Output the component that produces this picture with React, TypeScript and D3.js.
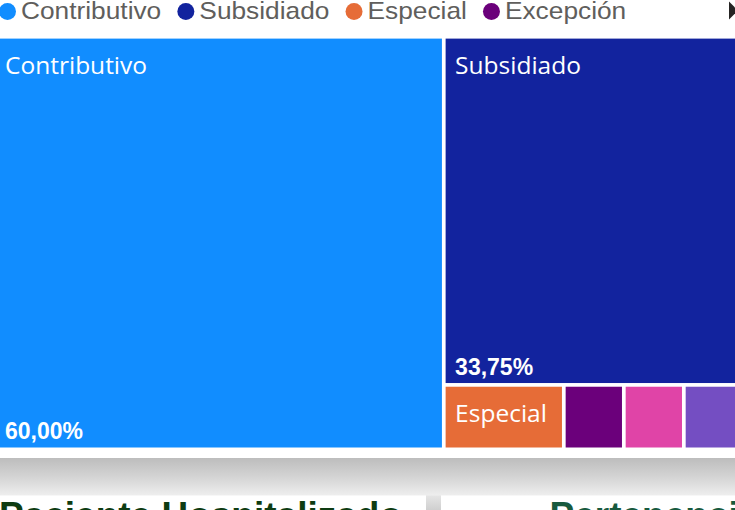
import React, { useEffect, useRef } from "react";
import * as d3 from "d3";

const categories = ["Contributivo", "Subsidiado", "Especial", "Excepción", "No asegurado", "Particular"];
const counts = [48, 27, 2, 1, 1, 1];
const colors = ["#118DFF", "#12239E", "#E66C37", "#6B007B", "#E044A7", "#744EC2"];
const panelTitles = ["Paciente Hospitalizado", "Pertenencia Étnica"];

const W = 735;
const H = 510;

export default function App() {
  const ref = useRef<SVGSVGElement>(null);

  useEffect(() => {
    const svg = d3.select(ref.current);
    svg.selectAll("*").remove();
    const defs = svg.append("defs");

    svg.append("rect").attr("x", 0).attr("y", 0).attr("width", W).attr("height", H).attr("fill", "#ffffff");

    // ---------- Legend ----------
    const legend = svg.append("g");
    const r = 8.5;
    const fs = 24;
    const sx = 1.096;
    let cursor = -1;
    const limit = 722;
    for (let i = 0; i < categories.length; i++) {
      const g = legend.append("g");
      const t = g
        .append("text")
        .attr("font-family", "'Liberation Sans', Arial, sans-serif")
        .attr("font-size", fs)
        .attr("fill", "#605E5C")
        .text(categories[i]);
      const tx = cursor + 2 * r + 5;
      const len = (t.node() as SVGTextElement).getComputedTextLength() * sx;
      if (tx + len > limit) {
        g.remove();
        break;
      }
      t.attr("transform", `translate(${tx},19) scale(${sx},1)`);
      g.append("circle").attr("cx", cursor + r).attr("cy", 11.5).attr("r", r).attr("fill", colors[i]);
      cursor = tx + len + 16;
    }
    legend
      .append("path")
      .attr("d", "M729,1.5 L729,19.5 L738,10.5 Z")
      .attr("fill", "#252423");

    // ---------- Treemap ----------
    const tx0 = -4.5, tx1 = 742, ty0 = 38.6, ty1 = 447.5;
    const data = categories.map((c, i) => ({ name: c, value: counts[i], color: colors[i] }));
    const total = d3.sum(counts);
    const root = d3
      .hierarchy<any>({ name: "root", children: data })
      .sum((d: any) => d.value || 0);
    d3.treemap<any>()
      .tile(d3.treemapSquarify)
      .size([tx1 - tx0, ty1 - ty0])
      .paddingInner(3.7)
      .round(false)(root);

    const tm = svg.append("g").attr("transform", `translate(${tx0},${ty0})`);
    const leaves = root.leaves() as any[];
    const cell = tm.selectAll("g.cell").data(leaves).enter().append("g").attr("class", "cell");
    cell
      .append("rect")
      .attr("x", (d) => d.x0)
      .attr("y", (d) => d.y0)
      .attr("width", (d) => d.x1 - d.x0)
      .attr("height", (d) => d.y1 - d.y0)
      .attr("fill", (d) => d.data.color);

    cell.each(function (d: any) {
      const g = d3.select(this);
      const w = d.x1 - d.x0;
      const h = d.y1 - d.y0;
      if (h >= 45) {
        const t = g
          .append("text")
          .attr("x", d.x0 + 9.5)
          .attr("y", d.y0 + 35.5)
          .attr("font-family", "'Open Sans', sans-serif")
          .attr("font-size", 24.5)
          .attr("fill", "#ffffff")
          .text(d.data.name);
        const len = (t.node() as SVGTextElement).getComputedTextLength();
        if (len + 15 > w) t.remove();
      }
      if (h >= 100) {
        const pct = ((d.data.value / total) * 100).toFixed(2).replace(".", ",") + "%";
        g.append("text")
          .attr("x", d.x0 + 9.5)
          .attr("y", d.y1 - 8)
          .attr("font-family", "'Liberation Sans', Arial, sans-serif")
          .attr("font-weight", "bold")
          .attr("font-size", 23)
          .attr("fill", "#ffffff")
          .text(pct);
      }
    });

    // ---------- Bottom shadow band & panels ----------
    const band = defs
      .append("linearGradient")
      .attr("id", "band")
      .attr("gradientUnits", "userSpaceOnUse")
      .attr("x1", 0).attr("y1", 458).attr("x2", 0).attr("y2", 496);
    band.append("stop").attr("offset", 0).attr("stop-color", "#bdbdbd");
    band.append("stop").attr("offset", 0.5).attr("stop-color", "#d4d4d4");
    band.append("stop").attr("offset", 1).attr("stop-color", "#efefef");
    svg.append("rect").attr("x", 0).attr("y", 458).attr("width", W).attr("height", H - 458).attr("fill", "url(#band)");

    const gap = defs
      .append("linearGradient")
      .attr("id", "gap")
      .attr("gradientUnits", "userSpaceOnUse")
      .attr("x1", 0).attr("y1", 495).attr("x2", 0).attr("y2", 510);
    gap.append("stop").attr("offset", 0).attr("stop-color", "#e6e6e6");
    gap.append("stop").attr("offset", 1).attr("stop-color", "#cfcfcf");
    svg.append("rect").attr("x", 426).attr("y", 495.5).attr("width", 15).attr("height", 15).attr("fill", "url(#gap)");

    svg.append("rect").attr("x", -10).attr("y", 495.5).attr("width", 436).attr("height", 20).attr("fill", "#ffffff");
    svg.append("rect").attr("x", 441).attr("y", 495.5).attr("width", 310).attr("height", 20).attr("fill", "#ffffff");

    svg.append("text")
      .attr("x", -1)
      .attr("y", 528)
      .attr("font-family", "'Liberation Sans', Arial, sans-serif")
      .attr("font-weight", "bold")
      .attr("font-size", 37)
      .attr("fill", "#0e3c12")
      .text(panelTitles[0]);
    svg.append("text")
      .attr("x", 549.5)
      .attr("y", 528)
      .attr("font-family", "'Liberation Sans', Arial, sans-serif")
      .attr("font-weight", "bold")
      .attr("font-size", 37)
      .attr("fill", "#185a3e")
      .text(panelTitles[1]);
  }, []);

  return (
    <svg
      ref={ref}
      width={W}
      height={H}
      style={{ position: "absolute", left: 0, top: 0, display: "block" }}
    />
  );
}
